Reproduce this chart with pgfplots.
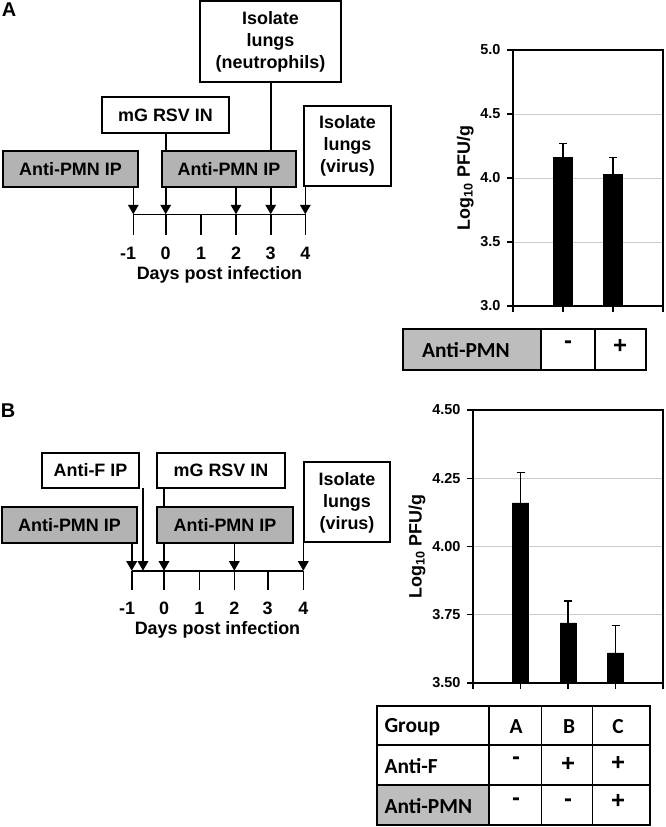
\documentclass[border=0pt]{standalone}
\usepackage{fontspec}
\setmainfont{Liberation Sans}
\newfontfamily\calib{Carlito}
\usepackage{pgfplots}
\pgfplotsset{compat=1.18}
\usetikzlibrary{arrows.meta}
\definecolor{boxgray}{HTML}{B3B3B3}
\definecolor{tabgray}{HTML}{BDBDBD}
\newcommand\fsz[2]{\fontsize{#1}{#2}\selectfont}
\begin{document}
\begin{tikzpicture}
\useasboundingbox (0,0) rectangle (666bp,827bp);
% ---------- background axis in pixel units (y from top) ----------
\begin{axis}[at={(0,0)}, anchor=south west, scale only axis,
  width=666bp, height=827bp, xmin=0, xmax=666, ymin=0, ymax=827,
  y dir=reverse, hide axis, clip=false]
\tikzset{lw/.style={line width=1.6bp},
  arr/.style={lw,-{Triangle[width=10.5bp,length=9.5bp]}},
  tl/.style={font=\bfseries\fsz{18}{22}},
  tab/.style={font=\calib\bfseries\fsz{21.5}{22}},
  pm/.style={font=\bfseries\fsz{24}{24}}}
% panel letters
\node[font=\bfseries\fsz{20}{20}] at (9,10) {A};
\node[font=\bfseries\fsz{20}{20}] at (8,411) {B};
% ===== Timeline A =====
\draw[lw] (165.7,133) -- (165.7,151);
\draw[lw] (270.7,82) -- (270.7,151);
\draw[lw,fill=white] (200,1) rectangle (341,82);
\node[tl,align=center] at (270.5,42) {Isolate\\lungs\\(neutrophils)};
\draw[lw,fill=white] (102,97) rectangle (229,133);
\node[tl] at (165.5,115) {mG RSV IN};
\draw[lw,fill=boxgray] (3,151) rectangle (138,187);
\node[tl] at (70.5,169) {Anti-PMN IP};
\draw[lw,fill=boxgray] (162,151) rectangle (296,187);
\node[tl] at (229,169) {Anti-PMN IP};
\draw[lw,fill=white] (304,106) rectangle (391,186);
\node[tl,align=center] at (347.5,146) {Isolate\\lungs\\(virus)};
\draw[arr] (133.3,187) -- (133.3,214.3);
\draw[arr] (165.7,187) -- (165.7,214.3);
\draw[arr] (236,187) -- (236,214.3);
\draw[arr] (270.7,187) -- (270.7,214.3);
\draw[arr] (305.3,186) -- (305.3,214.3);
\draw[lw] (133.3,214.3) -- (305.3,214.3);
\draw[lw] (133.3,214.3) -- (133.3,235);
\draw[lw] (165.7,214.3) -- (165.7,235);
\draw[lw] (201,214.3) -- (201,235);
\draw[lw] (236,214.3) -- (236,235);
\draw[lw] (270.7,214.3) -- (270.7,235);
\draw[lw] (305.3,214.3) -- (305.3,235);
\node[tl] at (128,253) {-1};
\node[tl] at (165.7,253) {0};
\node[tl] at (201,253) {1};
\node[tl] at (236,253) {2};
\node[tl] at (270.7,253) {3};
\node[tl] at (305.3,253) {4};
\node[tl] at (219.5,275) {Days post infection};
% ===== Timeline B =====
\draw[lw] (164,488) -- (164,507);
\draw[lw,fill=white] (42,453) rectangle (139,488);
\node[tl] at (90.5,470.5) {Anti-F IP};
\draw[lw,fill=white] (157,453) rectangle (285,488);
\node[tl] at (221,470.5) {mG RSV IN};
\draw[lw,fill=boxgray] (2,507) rectangle (137,543);
\node[tl] at (69.5,525) {Anti-PMN IP};
\draw[lw,fill=boxgray] (157,507) rectangle (293,543);
\node[tl] at (225,525) {Anti-PMN IP};
\draw[lw,fill=white] (304,462) rectangle (390,542);
\node[tl,align=center] at (347,503) {Isolate\\lungs\\(virus)};
\draw[arr] (131.7,543) -- (131.7,570.7);
\draw[arr] (143,488) -- (143,570.7);
\draw[arr] (164,543) -- (164,570.7);
\draw[arr] (234.3,543) -- (234.3,570.7);
\draw[arr] (303.3,542) -- (303.3,570.7);
\draw[lw] (131.7,570.7) -- (303.3,570.7);
\draw[lw] (131.7,570.7) -- (131.7,590);
\draw[lw] (164,570.7) -- (164,590);
\draw[lw] (199.3,570.7) -- (199.3,590);
\draw[lw] (234.3,570.7) -- (234.3,590);
\draw[lw] (267.7,570.7) -- (267.7,590);
\draw[lw] (303.3,570.7) -- (303.3,590);
\node[tl] at (127,608) {-1};
\node[tl] at (164,608) {0};
\node[tl] at (199.3,608) {1};
\node[tl] at (234.3,608) {2};
\node[tl] at (267.7,608) {3};
\node[tl] at (303.3,608) {4};
\node[tl] at (217.5,630) {Days post infection};
% ===== Table A =====
\fill[tabgray] (403,329) rectangle (541,370);
\draw[line width=1.3bp] (403,329) rectangle (646,370);
\draw[line width=1.3bp] (541,329) -- (541,370) (595,329) -- (595,370);
\node[tab] at (466,350) {Anti-PMN};
\node[pm] at (568,345) {-};
\node[pm] at (620,346) {+};
% ===== Table B =====
\fill[tabgray] (377,785) rectangle (489,825);
\draw[line width=1.3bp] (377,706) rectangle (650,825);
\draw[line width=1.3bp] (489,706) -- (489,825) (541.7,706) -- (541.7,825)
  (592.3,706) -- (592.3,825) (377,745) -- (650,745) (377,785) -- (650,785);
\node[tab,anchor=west] at (381,727) {Group};
\node[tab,anchor=west] at (381,766) {Anti-F};
\node[tab,anchor=west] at (381,806) {Anti-PMN};
\node[tab] at (516,727) {A};
\node[tab] at (569,727) {B};
\node[tab] at (618,727) {C};
\node[pm] at (516,761) {-};
\node[pm] at (568,764) {+};
\node[pm] at (618,763) {+};
\node[pm] at (516,802) {-};
\node[pm] at (568,803) {-};
\node[pm] at (618,801) {+};
\end{axis}
% ---------- common bar chart style ----------
\pgfplotsset{barchart/.style={anchor=south west, scale only axis,
  ymajorgrids, grid style={gray!40, line width=0.8bp},
  axis line style={line width=1.4bp}, tick style={black, line width=1.4bp},
  tick align=outside, major tick length=6bp, xtick pos=bottom, ytick pos=left,
  xticklabels={},
  yticklabel style={font=\bfseries\fsz{14.5}{14.5}, xshift=-3bp},
  ylabel={Log\textsubscript{10} PFU/g},
  ylabel style={font=\bfseries\fsz{18}{18}},
  /pgf/number format/assume math mode=true}}
% ===== Chart A =====
\begin{axis}[barchart, at={(513bp,521bp)}, width=150bp, height=256bp,
  xmin=0, xmax=3, ymin=3, ymax=5, xtick={0,1,2,3}, ytick={3,3.5,4,4.5,5},
  yticklabel style={/pgf/number format/.cd, fixed, fixed zerofill, precision=1}]
\addplot[ybar, bar width=19bp, fill=black, draw=black,
  error bars/.cd, y dir=plus, y explicit,
  error bar style={line width=1.3bp},
  error mark options={rotate=90, mark size=4bp, line width=1.3bp}]
  coordinates {(1,4.16) +- (0,0.11) (2,4.03) +- (0,0.13)};
\end{axis}
% ===== Chart B =====
\begin{axis}[barchart, at={(473bp,144bp)}, width=190bp, height=273bp,
  xmin=0, xmax=4, ymin=3.5, ymax=4.5, xtick={0,1,2,3,4},
  ytick={3.5,3.75,4,4.25,4.5},
  yticklabel style={/pgf/number format/.cd, fixed, fixed zerofill, precision=2}]
\addplot[ybar, bar width=16bp, fill=black, draw=black,
  error bars/.cd, y dir=plus, y explicit,
  error bar style={line width=1.3bp},
  error mark options={rotate=90, mark size=4bp, line width=1.3bp}]
  coordinates {(1,4.16) +- (0,0.11) (2,3.72) +- (0,0.08) (3,3.61) +- (0,0.10)};
\end{axis}
\end{tikzpicture}
\end{document}
